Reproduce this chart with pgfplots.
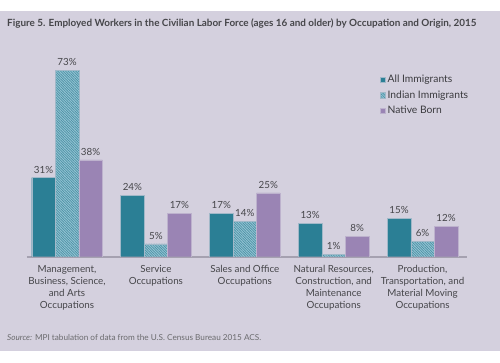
\documentclass[border=0pt]{standalone}
\usepackage{fontspec}
\setmainfont{Lato}
\usepackage{pgfplots}
\pgfplotsset{compat=1.18}
\usetikzlibrary{patterns.meta}
\definecolor{bg}{RGB}{212,208,222}
\definecolor{allc}{RGB}{43,127,149}
\definecolor{natc}{RGB}{154,132,180}
\definecolor{indc}{RGB}{150,196,212}
\definecolor{txt}{RGB}{70,70,74}
\definecolor{axc}{RGB}{165,161,176}
\begin{document}
\begin{tikzpicture}[x=1pt,y=1pt]
\fill[white] (0,0) rectangle (500,362);
\fill[bg] (0,11) rectangle (500,351);
\node[anchor=base west,font=\bfseries\fontsize{9.9}{12}\selectfont,text=txt,inner sep=0] at (7,335) {Figure 5. Employed Workers in the Civilian Labor Force (ages 16 and older) by Occupation and Origin, 2015};
\node[anchor=base west,font=\fontsize{8.2}{10}\selectfont,text=txt!80,inner sep=0] at (7,22) {\textit{Source:} MPI tabulation of data from the U.S. Census Bureau 2015 ACS.};
\begin{axis}[
  at={(27pt,105.3pt)}, anchor=south west,
  scale only axis, width=440pt, height=204pt,
  xmin=-0.45, xmax=4.5, ymin=0, ymax=80,
  ybar=0pt, bar width=23.5pt,
  /pgf/number format/assume math mode=true,
  axis x line*=bottom, axis y line=none,
  x axis line style={draw=axc, line width=1.6pt, -},
  xtick={0,1,2,3,4}, xtick style={draw=none},
  xticklabels={{Management,\\Business, Science,\\and Arts\\Occupations},{Service\\Occupations},{Sales and Office\\Occupations},{Natural Resources,\\Construction, and\\Maintenance\\Occupations},{Production,\\Transportation, and\\Material Moving\\Occupations}},
  xticklabel style={align=center, font=\fontsize{9.8}{12.2}\selectfont, text=txt, yshift=-0.5pt},
  nodes near coords={\pgfmathprintnumber{\pgfplotspointmeta}\%},
  nodes near coords style={font=\fontsize{9.8}{11}\selectfont, text=txt, yshift=1pt},
  legend style={at={(0.802,0.90)}, anchor=north west, draw=none, fill=none,
    font=\fontsize{10.3}{12}\selectfont, text=txt!85!black, row sep=2.2pt, inner sep=0pt},
  legend cell align=left,
  legend image code/.code={\fill[#1] (0pt,-2.6pt) rectangle (5.2pt,2.6pt);},
]
\addplot[fill=allc, draw=bg!70!allc, line width=0.4pt] coordinates {(0,31) (1,24) (2,17) (3,13) (4,15)};
\addplot[fill=indc, draw=bg!70!allc, line width=0.4pt, postaction={pattern={Lines[angle=-45,distance=1.8pt,line width=0.7pt]}, pattern color=allc!85}] coordinates {(0,73) (1,5) (2,14) (3,1) (4,6)};
\addplot[fill=natc, draw=bg!60!natc, line width=0.4pt] coordinates {(0,38) (1,17) (2,25) (3,8) (4,12)};
\legend{All Immigrants, Indian Immigrants, Native Born}
\end{axis}
\end{tikzpicture}
\end{document}
